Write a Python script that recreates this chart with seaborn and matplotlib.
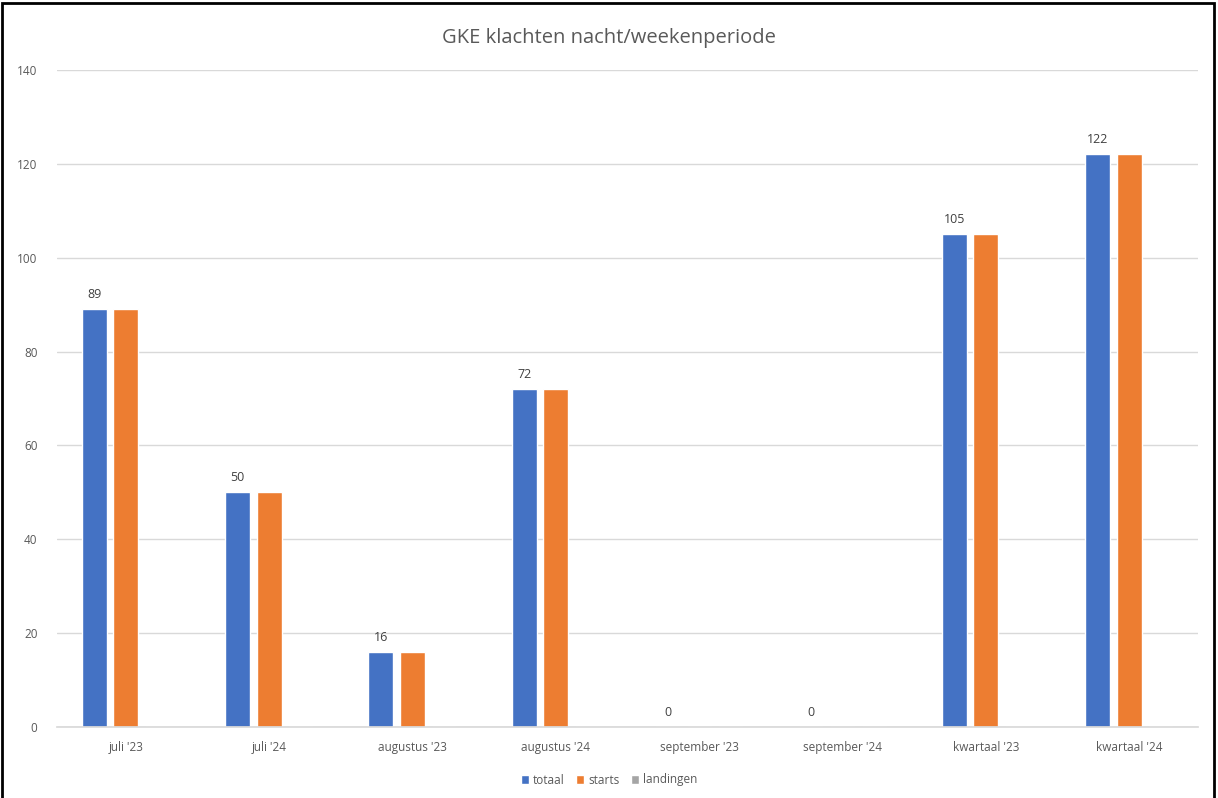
import matplotlib
matplotlib.use("Agg")
import matplotlib.pyplot as plt
import seaborn as sns
import pandas as pd
from matplotlib.patches import Rectangle

categories = ["juli '23", "juli '24", "augustus '23", "augustus '24",
              "september '23", "september '24", "kwartaal '23", "kwartaal '24"]
totaal = [89, 50, 16, 72, 0, 0, 105, 122]
starts = [89, 50, 16, 72, 0, 0, 105, 122]
landingen = [0, 0, 0, 0, 0, 0, 0, 0]
series_names = ["totaal", "starts", "landingen"]
colors = ["#4472C4", "#ED7D31", "#A5A5A5"]
yticks = [0, 20, 40, 60, 80, 100, 120, 140]

rows = []
for name, vals in zip(series_names, [totaal, starts, landingen]):
    for c, v in zip(categories, vals):
        rows.append({"categorie": c, "serie": name, "waarde": v})
df = pd.DataFrame(rows)

sns.set_theme(style="white")
plt.rcParams['font.family'] = ['Open Sans', 'DejaVu Sans']

fig = plt.figure(figsize=(12.18, 7.98), dpi=100)
ax = fig.add_axes([57/1218, 1-727/798, (1198-57)/1218, (727-70)/798])

sns.barplot(data=df, x="categorie", y="waarde", hue="serie", order=categories,
            hue_order=series_names, palette=colors, width=0.66, gap=0.21,
            saturation=1, ax=ax, legend=True)

ax.set_ylim(0, 140)
ax.set_yticks(yticks)
ax.set_xlim(-0.48, len(categories) - 0.52)
ax.yaxis.grid(True, color="#D9D9D9", linewidth=1)
ax.set_axisbelow(True)
for s in ["top", "right", "left"]:
    ax.spines[s].set_visible(False)
ax.spines["bottom"].set_color("#D9D9D9")
ax.tick_params(axis="both", length=0, labelsize=8.5, colors="#595959")
ax.tick_params(axis="y", pad=14)
ax.tick_params(axis="x", pad=10)
ax.set_xlabel("")
ax.set_ylabel("")

# data labels on totaal series
cont = ax.containers[0]
ax.bar_label(cont, labels=[str(v) for v in totaal], padding=6,
             fontsize=9, color="#404040")

fig.text(0.5, 1 - 38/798, "GKE klachten nacht/weekenperiode", fontsize=14.5,
         color="#595959", ha="center", va="center")

handles, labels = ax.get_legend_handles_labels()
ax.legend(handles, labels, loc="center", bbox_to_anchor=(0.5, 1 - 780/798),
          bbox_transform=fig.transFigure, ncol=3, frameon=False,
          handlelength=0.7, handleheight=0.7, handletextpad=0.3,
          columnspacing=1.0, fontsize=8.5, labelcolor="#595959")

fig.patches.append(Rectangle((2/1218, -0.02), (1214-2)/1218, 1.02 - 3/798,
                             transform=fig.transFigure, fill=False,
                             edgecolor="black", linewidth=2))

fig.savefig("out.png", dpi=100)
